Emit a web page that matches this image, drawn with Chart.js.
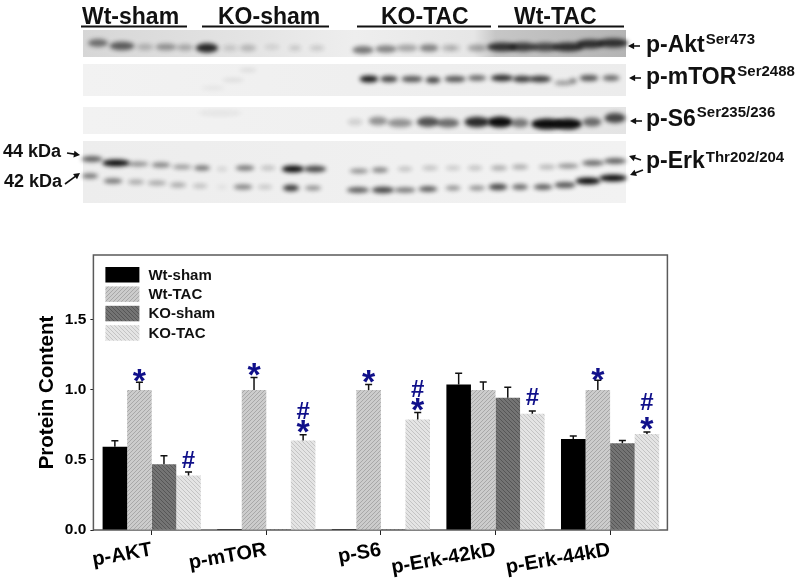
<!DOCTYPE html>
<html>
<head>
<meta charset="utf-8">
<style>
  html, body { margin: 0; background: #fff; overflow: hidden; }
  canvas { position: absolute; left: 0; }
  #blotChart { top: 0; }
  #barChart { top: 215px; }
</style>
</head>
<body>
<canvas id="blotChart" width="800" height="215"></canvas>
<canvas id="barChart" width="800" height="368"></canvas>
<script src="https://cdn.jsdelivr.net/npm/chart.js@4/dist/chart.umd.min.js"></script>
<script>
// bar chart values
const categories = ["p-AKT", "p-mTOR", "p-S6", "p-Erk-42kD", "p-Erk-44kD"];
const seriesNames = ["Wt-sham", "Wt-TAC", "KO-sham", "KO-TAC"];
const wtSham = [0.595, 0.008, 0.008, 1.04, 0.65];
const wtTac = [1.0, 1.0, 1.0, 1.0, 1.0];
const koSham = [0.47, 0.008, 0.008, 0.945, 0.62];
const koTac = [0.39, 0.64, 0.79, 0.83, 0.685];
const wtShamErr = [0.043, 0, 0, 0.08, 0.022];
const wtTacErr = [0.055, 0.09, 0.04, 0.057, 0.07];
const koShamErr = [0.06, 0, 0, 0.075, 0.02];
const koTacErr = [0.025, 0.04, 0.05, 0.02, 0.015];
const yTicks = [0, 0.5, 1, 1.5];

// significance marks: category index, series index, symbol, height on the y axis
const markCategory = [0, 0, 1, 1, 1, 2, 2, 2, 3, 4, 4, 4];
const markSeries = [1, 3, 1, 3, 3, 1, 3, 3, 3, 1, 3, 3];
const markSymbol = ["*", "#", "*", "#", "*", "*", "#", "*", "#", "*", "#", "*"];
const markValue = [1.1, 0.505, 1.14, 0.85, 0.733, 1.093, 1.014, 0.895, 0.95, 1.11, 0.92, 0.76];

// blot bands
const aktX = [98, 122, 145, 166, 185, 207, 230, 248, 272, 295, 317, 363, 386, 407, 429, 448, 455, 477, 502, 523, 545, 568, 590, 613];
const aktY = [43, 46, 47, 47, 47.5, 48, 48, 48, 47, 48, 48, 50, 49, 48, 48, 48, 48, 48, 47, 47, 47, 47, 44, 43];
const aktW = [16, 20, 13, 17, 13, 18, 12, 13, 12, 10, 12, 17, 17, 17, 15, 10, 8, 15, 24, 22, 20, 25, 22, 24];
const aktD = [0.6, 0.7, 0.3, 0.45, 0.35, 0.9, 0.2, 0.3, 0.15, 0.2, 0.2, 0.6, 0.55, 0.4, 0.55, 0.3, 0.25, 0.4, 0.85, 0.8, 0.75, 0.85, 0.85, 0.85];

const mtorX = [213, 233, 248, 369, 389, 412, 433, 455, 477, 502, 522, 540, 563, 573, 589, 611];
const mtorY = [88, 80, 70, 79, 79, 79, 80, 79, 78, 78, 79, 79, 83, 81, 78, 78];
const mtorW = [20, 18, 14, 15, 14, 17, 12, 17, 15, 18, 15, 18, 14, 6, 15, 14];
const mtorD = [0.08, 0.12, 0.12, 0.95, 0.8, 0.75, 0.8, 0.75, 0.65, 0.9, 0.85, 0.85, 0.45, 0.55, 0.75, 0.65];

const s6X = [220, 355, 378, 400, 428, 448, 477, 500, 520, 547, 568, 592, 615];
const s6Y = [113, 122, 121, 123, 122, 123, 122, 122, 123, 124, 124, 122, 118];
const s6W = [35, 12, 15, 20, 18, 18, 20, 20, 14, 25, 22, 15, 17];
const s6D = [0.08, 0.2, 0.5, 0.5, 0.75, 0.65, 0.9, 1, 0.6, 1, 1, 0.65, 0.8];

const erk44X = [92, 116, 138, 161, 182, 202, 222, 245, 268, 293, 315, 359, 380, 405, 430, 453, 475, 499, 520, 547, 568, 593, 615];
const erk44Y = [159, 163, 164, 165, 167, 168, 169, 168, 168, 169, 169, 171, 170, 169, 168, 168, 168, 168, 167, 167, 166, 163, 161];
const erk44W = [17, 22, 17, 15, 15, 13, 8, 15, 12, 18, 18, 15, 13, 12, 13, 12, 12, 13, 13, 13, 17, 18, 18];
const erk44D = [0.7, 1, 0.5, 0.55, 0.45, 0.6, 0.2, 0.6, 0.3, 1, 0.8, 0.5, 0.55, 0.3, 0.3, 0.25, 0.3, 0.4, 0.4, 0.35, 0.5, 0.65, 0.7];

const erk42X = [90, 113, 136, 157, 178, 200, 222, 243, 265, 291, 313, 358, 383, 405, 428, 453, 477, 498, 520, 543, 565, 588, 613];
const erk42Y = [176, 181, 182, 183, 185, 186, 187, 187, 187, 188, 188, 190, 190, 190, 189, 188, 188, 187, 187, 187, 185, 181, 178];
const erk42W = [13, 15, 13, 15, 13, 12, 8, 15, 12, 13, 13, 18, 18, 17, 15, 12, 13, 15, 13, 15, 17, 20, 22];
const erk42D = [0.6, 0.6, 0.4, 0.4, 0.4, 0.3, 0.1, 0.55, 0.25, 0.85, 0.5, 0.7, 0.8, 0.6, 0.7, 0.5, 0.5, 0.8, 0.65, 0.7, 0.75, 1, 1];

// blot annotation text
const groupNames = ["Wt-sham", "KO-sham", "KO-TAC", "Wt-TAC"];
const proteinNames = ["p-Akt", "p-mTOR", "p-S6", "p-Erk"];
const proteinSites = ["Ser473", "Ser2488", "Ser235/236", "Thr202/204"];
const sizeNames = ["44 kDa", "42 kDa"];

const FONT = '"Liberation Sans", Arial, sans-serif';
const NAVY = "#10108a";

function bandImage(width, thick, dark) {
  const pad = 9;
  const w = width * 1.25;
  const c = document.createElement("canvas");
  c.width = Math.ceil(w + pad * 2);
  c.height = Math.ceil(thick + pad * 2);
  const g = c.getContext("2d");
  g.filter = "blur(2px)";
  g.fillStyle = `rgba(12,12,12,${Math.min(1, dark * dark * 0.35 + dark * 0.65)})`;
  g.beginPath();
  g.ellipse(c.width / 2, c.height / 2, w / 2, thick / 2, 0, 0, Math.PI * 2);
  g.fill();
  return c;
}

function bandDataset(xs, ys, ws, ds, thick) {
  const images = xs.map((x, i) => bandImage(ws[i], thick * (0.7 + 0.7 * ds[i]), ds[i]));
  return {
    data: xs.map((x, i) => ({ x: x, y: ys[i] })),
    pointStyle: images,
    pointRadius: 5,
    showLine: false
  };
}

function arrow(ctx, x0, y0, x1, y1) {
  const a = Math.atan2(y1 - y0, x1 - x0);
  ctx.strokeStyle = "#111";
  ctx.fillStyle = "#111";
  ctx.lineWidth = 1.6;
  ctx.beginPath();
  ctx.moveTo(x0, y0);
  ctx.lineTo(x1 - 4 * Math.cos(a), y1 - 4 * Math.sin(a));
  ctx.stroke();
  ctx.beginPath();
  ctx.moveTo(x1, y1);
  ctx.lineTo(x1 - 7 * Math.cos(a - 0.5), y1 - 7 * Math.sin(a - 0.5));
  ctx.lineTo(x1 - 7 * Math.cos(a + 0.5), y1 - 7 * Math.sin(a + 0.5));
  ctx.closePath();
  ctx.fill();
}

// grey film strips behind the bands
const blotBackground = {
  id: "blotBackground",
  beforeDatasetsDraw(chart) {
    const ctx = chart.ctx;
    const xs = chart.scales.x, ys = chart.scales.y;
    const strip = (top, bottom, stops) => {
      const l = xs.getPixelForValue(83), r = xs.getPixelForValue(626);
      const g = ctx.createLinearGradient(l, 0, r, 0);
      stops.forEach(s => g.addColorStop(s[0], s[1]));
      ctx.fillStyle = g;
      ctx.fillRect(l, ys.getPixelForValue(top), r - l, ys.getPixelForValue(bottom) - ys.getPixelForValue(top));
    };
    strip(30, 57, [[0, "#d6d6d6"], [0.35, "#e6e6e6"], [0.5, "#eeeeee"], [0.72, "#e6e6e6"], [0.76, "#c6c6c6"], [1, "#b4b4b4"]]);
    strip(64, 96, [[0, "#f2f2f2"], [1, "#ececec"]]);
    strip(107, 134, [[0, "#f2f2f2"], [0.5, "#f0f0f0"], [1, "#e4e4e4"]]);
    strip(141, 203, [[0, "#ededed"], [1, "#f2f2f2"]]);
  }
};

const blotLabels = {
  id: "blotLabels",
  afterDatasetsDraw(chart) {
    const ctx = chart.ctx;
    ctx.save();
    ctx.fillStyle = "#111";
    ctx.textBaseline = "alphabetic";
    ctx.textAlign = "left";

    // group headers and their rules
    ctx.font = "bold 23px " + FONT;
    const groupX = [82, 218, 381, 514];
    const ruleL = [81, 202, 357, 498];
    const ruleR = [187, 329, 491, 624];
    groupNames.forEach((name, i) => {
      ctx.fillStyle = "#111";
      ctx.fillText(name, groupX[i], 24);
      ctx.fillRect(ruleL[i], 25.5, ruleR[i] - ruleL[i], 2);
    });

    // protein names with superscript sites
    const nameY = [52, 84, 126, 168];
    const siteY = [44, 76, 117, 162];
    proteinNames.forEach((name, i) => {
      ctx.font = "bold 23px " + FONT;
      ctx.fillText(name, 646, nameY[i]);
      const w = ctx.measureText(name).width;
      ctx.font = "bold 15px " + FONT;
      ctx.fillText(proteinSites[i], 646 + w + 1, siteY[i]);
    });

    ctx.font = "bold 18px " + FONT;
    ctx.fillText(sizeNames[0], 3, 157);
    ctx.fillText(sizeNames[1], 4, 187);

    arrow(ctx, 640, 46, 628, 46);
    arrow(ctx, 641, 78, 629, 78);
    arrow(ctx, 642, 121, 630, 121);
    arrow(ctx, 641, 160, 629, 156);
    arrow(ctx, 643, 170, 630, 175);
    arrow(ctx, 67, 153, 80, 155);
    arrow(ctx, 65, 184, 80, 173);
    ctx.restore();
  }
};

new Chart(document.getElementById("blotChart"), {
  type: "scatter",
  data: {
    datasets: [
      bandDataset(aktX, aktY, aktW, aktD, 7),
      bandDataset(mtorX, mtorY, mtorW, mtorD, 5),
      bandDataset(s6X, s6Y, s6W, s6D, 8),
      bandDataset(erk44X, erk44Y, erk44W, erk44D, 5),
      bandDataset(erk42X, erk42Y, erk42W, erk42D, 5)
    ]
  },
  options: {
    responsive: false,
    animation: false,
    events: [],
    layout: { autoPadding: false },
    plugins: { legend: { display: false }, tooltip: { enabled: false } },
    scales: {
      x: { display: false, min: 0, max: 800 },
      y: { display: false, min: 0, max: 215, reverse: true }
    }
  },
  plugins: [blotBackground, blotLabels]
});

// hatch fills
function hatch(bg, line, rising) {
  const c = document.createElement("canvas");
  c.width = 4;
  c.height = 4;
  const g = c.getContext("2d");
  g.fillStyle = bg;
  g.fillRect(0, 0, 4, 4);
  g.strokeStyle = line;
  g.lineWidth = 1;
  g.beginPath();
  if (rising) {
    g.moveTo(-1, 1); g.lineTo(1, -1);
    g.moveTo(-1, 5); g.lineTo(5, -1);
    g.moveTo(3, 5); g.lineTo(5, 3);
  } else {
    g.moveTo(-1, 3); g.lineTo(1, 5);
    g.moveTo(-1, -1); g.lineTo(5, 5);
    g.moveTo(3, -1); g.lineTo(5, 1);
  }
  g.stroke();
  return g.createPattern(c, "repeat");
}

const fills = [
  "#000000",
  hatch("#cccccc", "#a8a8a8", true),
  hatch("#747474", "#565656", false),
  hatch("#e4e4e4", "#c4c4c4", false)
];
const seriesValues = [wtSham, wtTac, koSham, koTac];
const seriesErrors = [wtShamErr, wtTacErr, koShamErr, koTacErr];

// frame goes under the bars so the flat bars still show on the axis
const frame = {
  id: "frame",
  beforeDatasetsDraw(chart) {
    const ctx = chart.ctx;
    const area = chart.chartArea;
    ctx.save();
    ctx.strokeStyle = "#5a5a5a";
    ctx.lineWidth = 1.5;
    ctx.strokeRect(area.left - 1, area.top, area.right - area.left + 1, area.bottom - area.top);
    ctx.restore();
  }
};

// upper error bars, significance marks and legend
const extras = {
  id: "extras",
  afterDatasetsDraw(chart) {
    const ctx = chart.ctx;
    const area = chart.chartArea;
    const y = chart.scales.y;
    ctx.save();

    // error bars
    ctx.strokeStyle = "#111";
    ctx.lineWidth = 1.5;
    seriesErrors.forEach((errs, s) => {
      const meta = chart.getDatasetMeta(s);
      errs.forEach((err, i) => {
        if (!err) return;
        const x = meta.data[i].x;
        const y0 = y.getPixelForValue(seriesValues[s][i]);
        const y1 = y.getPixelForValue(seriesValues[s][i] + err);
        ctx.beginPath();
        ctx.moveTo(x, y0);
        ctx.lineTo(x, y1);
        ctx.moveTo(x - 3.5, y1);
        ctx.lineTo(x + 3.5, y1);
        ctx.stroke();
      });
    });

    // stars and hashes
    ctx.fillStyle = NAVY;
    ctx.textAlign = "center";
    ctx.textBaseline = "alphabetic";
    markSymbol.forEach((sym, i) => {
      const x = chart.getDatasetMeta(markSeries[i]).data[markCategory[i]].x;
      const py = y.getPixelForValue(markValue[i]);
      if (sym === "*") {
        ctx.font = "bold 34px " + FONT;
        ctx.fillText(sym, x, py + 16);
      } else {
        ctx.font = "bold 24px " + FONT;
        ctx.fillText(sym, x, py + 8.5);
      }
    });

    // legend inside the plot
    ctx.textAlign = "left";
    ctx.textBaseline = "middle";
    ctx.font = "bold 15px " + FONT;
    chart.data.datasets.forEach((ds, i) => {
      const top = area.top + 12 + i * 19.4;
      ctx.fillStyle = ds.backgroundColor;
      ctx.fillRect(area.left + 11, top, 34, 15.5);
      ctx.fillStyle = "#111";
      ctx.fillText(ds.label, area.left + 54, top + 8.5);
    });
    ctx.restore();
  }
};

new Chart(document.getElementById("barChart"), {
  type: "bar",
  data: {
    labels: categories,
    datasets: seriesNames.map((name, i) => ({
      label: name,
      data: seriesValues[i],
      backgroundColor: fills[i],
      borderWidth: 0,
      barPercentage: 1,
      categoryPercentage: 0.857
    }))
  },
  options: {
    responsive: false,
    animation: false,
    events: [],
    layout: { padding: { top: 40, right: 132.6, left: 0, bottom: 0 } },
    plugins: { legend: { display: false }, tooltip: { enabled: false } },
    scales: {
      x: {
        afterFit: scale => { scale.height = 53; },
        grid: { offset: false, drawOnChartArea: false, color: "#222", tickLength: 5 },
        border: { display: false },
        ticks: {
          minRotation: 10,
          maxRotation: 10,
          padding: 3,
          color: "#000",
          font: { family: FONT, size: 20, weight: "bold" }
        }
      },
      y: {
        min: 0,
        max: 1.964,
        afterFit: scale => { scale.width = 94.4; },
        afterBuildTicks: scale => { scale.ticks = yTicks.map(v => ({ value: v })); },
        grid: { drawOnChartArea: false, color: "#222", tickLength: 4 },
        border: { display: false },
        title: {
          display: true,
          text: "Protein Content",
          color: "#000",
          padding: { top: 35, bottom: 0 },
          font: { family: FONT, size: 20.5, weight: "bold" }
        },
        ticks: {
          padding: 4,
          color: "#000",
          callback: v => v.toFixed(1),
          font: { family: FONT, size: 15.5, weight: "bold" }
        }
      }
    }
  },
  plugins: [frame, extras]
});
</script>
</body>
</html>
